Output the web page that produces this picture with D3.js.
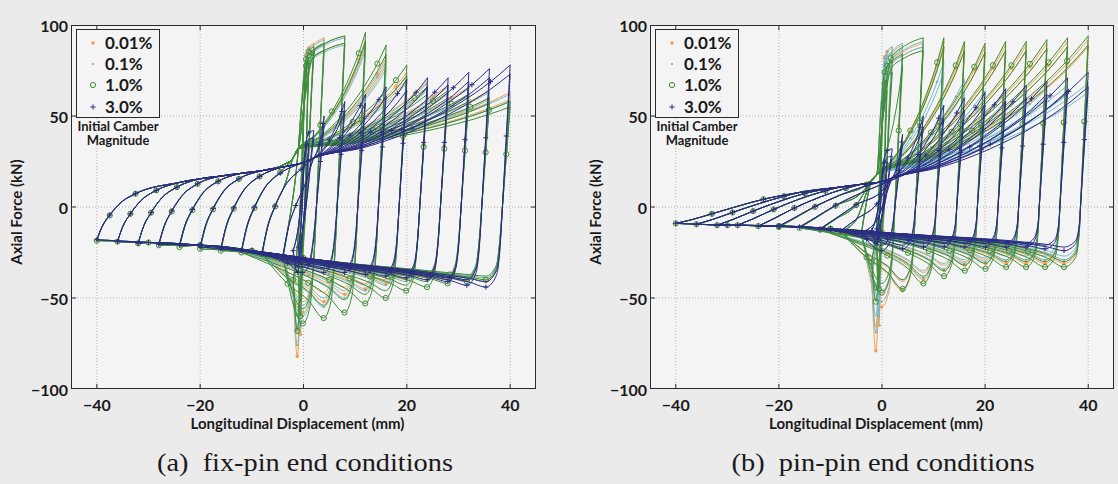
<!DOCTYPE html>
<html><head><meta charset="utf-8">
<script src="https://cdn.jsdelivr.net/npm/d3@7"></script>
<style>
html,body{margin:0;padding:0;background:#ebebeb;}
svg{display:block;}
</style></head>
<body>
<svg id="chart" width="1118" height="484"></svg>
<script>
// ---------------- DATA ----------------
const seriesNames = ["0.01%", "0.1%", "1.0%", "3.0%"];
const amplitudes = [1, 2, 4, 8, 12, 16, 20, 24, 28, 32, 36, 40];   // cycle amplitude (mm)
const xTicks = [-40, -20, 0, 20, 40];
const yTicks = [-100, -50, 0, 50, 100];

// (a) fix-pin : force at -d (start of reload), compression minimum, tension peak (kN); 1st and 2nd cycle
const fixLow = [
  [-30, -45, -27, -25, -24, -23, -22, -21, -20.5, -20, -19, -18],
  [-30, -42, -27, -25, -24, -23, -22, -21, -20.5, -20, -19, -18],
  [-32, -40, -28, -26, -25, -24, -23, -22, -21, -20, -19, -18.5],
  [-22, -24, -27, -25, -24, -23, -22, -21, -20.5, -20, -19, -18]
];
const fixComp = [
  [-70, -82, -58, -52, -48, -45, -42, -40, -39, -39, -40, -41],
  [-66, -76, -60, -55, -50, -46, -43, -41, -40, -40, -40, -41],
  [-60, -68, -64, -61, -58, -53, -50, -46, -44, -42, -41, -40],
  [-30, -36, -36, -36, -36, -37, -38, -39, -40, -41, -43, -44]
];
const fixPeak = [
  [86, 90, 93, 94, 92, 82, 74, 69, 67, 66, 64, 63],
  [84, 89, 92, 93, 90, 80, 72, 68, 66, 65, 63, 62],
  [80, 88, 90, 94, 96, 89, 78, 66, 64, 62, 60, 58],
  [35, 42, 50, 58, 62, 66, 70, 71, 71, 74, 76, 78]
];
const fixComp2 = [
  [-60, -70, -52, -47, -44, -42, -40, -38, -37, -37, -38, -39],
  [-58, -66, -54, -50, -46, -43, -41, -39, -38, -38, -38, -39],
  [-52, -60, -56, -54, -51, -48, -46, -43, -41, -40, -39, -38],
  [-28, -33, -33, -34, -34, -35, -36, -37, -38, -39, -40, -41]
];
const fixPeak2 = [
  [80, 86, 90, 90, 88, 78, 70, 65, 63, 62, 60, 59],
  [78, 85, 89, 89, 86, 76, 68, 64, 62, 61, 59, 58],
  [74, 84, 86, 90, 91, 84, 72, 62, 60, 58, 57, 55],
  [32, 38, 45, 53, 57, 61, 64, 66, 67, 69, 71, 73]
];
const fixUpperThin = [[-24, 13.5], [-20, 15.5], [-16, 17], [-12, 18.5], [-8, 20], [-4, 23], [-2, 27], [-1, 32]];
const fixUpperThick = [[-24, 13.5], [-20, 15.5], [-16, 17], [-12, 18.5], [-8, 20], [-4, 22], [0, 24.5], [2, 27]];
const fixLower = [[-40, -18], [-30, -19.5], [-20, -21], [-10, -24], [0, -28], [10, -31], [20, -33], [30, -35], [40, -37]];

// (b) pin-pin
const pinLow = [
  [-25, -40, -14, -13, -12, -11, -10.5, -10.5, -10, -10, -9.5, -9],
  [-25, -38, -14, -13, -12, -11, -10.5, -10.5, -10, -10, -9.5, -9],
  [-22, -30, -15, -13.5, -12.5, -11.5, -11, -10.5, -10, -10, -9.5, -9],
  [-12, -13, -14, -13, -12, -11, -10.5, -10.5, -10, -10, -9.5, -9]
];
const pinComp = [
  [-65, -79, -55, -46, -40, -35, -32, -31, -31, -31, -31, -31],
  [-60, -69, -52, -45, -39, -34, -31, -30, -29, -29, -29, -29],
  [-45, -52, -47, -45, -42, -38, -35, -34, -33, -33, -33, -33],
  [-18, -20, -24, -23, -22, -22, -22, -22, -22, -22, -23, -24]
];
const pinPeak = [
  [85, 88, 89, 90, 91, 89, 88, 89, 89, 90, 91, 92],
  [84, 88, 90, 91, 80, 70, 64, 63, 64, 65, 67, 68],
  [70, 80, 84, 93, 93, 91, 90, 91, 91, 92, 93, 94],
  [25, 32, 40, 50, 56, 60, 63, 65, 67, 69, 71, 74]
];
const pinComp2 = [
  [-55, -66, -48, -41, -36, -32, -30, -29, -29, -29, -29, -29],
  [-52, -60, -46, -40, -35, -31, -29, -28, -27, -27, -27, -27],
  [-40, -46, -42, -40, -38, -35, -32, -31, -30, -30, -30, -30],
  [-16, -18, -21, -21, -20, -20, -20, -20, -20, -20, -21, -22]
];
const pinPeak2 = [
  [80, 85, 86, 88, 88, 86, 85, 86, 86, 87, 88, 88],
  [80, 85, 87, 88, 74, 64, 58, 58, 59, 60, 62, 63],
  [64, 74, 78, 86, 88, 86, 85, 86, 86, 87, 88, 89],
  [22, 28, 35, 44, 49, 53, 56, 58, 60, 62, 64, 66]
];
const pinUpperThin = [[-24, 4.5], [-16, 8], [-8, 11], [-4, 12.5], [-2, 14.5], [-1, 18]];
const pinUpperThick = [[-24, 4.5], [-16, 8], [-8, 11], [-4, 12.5], [0, 14], [2, 16]];
const pinLower = [[-40, -9.5], [-30, -10], [-20, -10.5], [-10, -12], [0, -14], [10, -15.5], [20, -16.5], [30, -17.5], [40, -18]];

// ---------------- DRAWING ----------------
const svg = d3.select('#chart');
const TOP = 25, BOTTOM = 389;
const FONT = "Lato, 'Open Sans', sans-serif";
const colors = ['#f0a050', '#72bccb', '#3f8c35', '#2b2d84'];

const panels = [
  {x0: 71, x1: 536, low: fixLow, cycles: [[fixComp, fixPeak], [fixComp2, fixPeak2]],
   upper: [fixUpperThin, fixUpperThin, fixUpperThin, fixUpperThick], lower: fixLower,
   caption: '(a)\u00a0\u00a0fix-pin end conditions', capW: 296, capX: 305,
   fanDx: [1, 2.5, 4.5, 7.5], fanFrac: [0.3, 0.55, 0.78, 0.93]},
  {x0: 650, x1: 1114, low: pinLow, cycles: [[pinComp, pinPeak], [pinComp2, pinPeak2]],
   upper: [pinUpperThin, pinUpperThin, pinUpperThin, pinUpperThick], lower: pinLower,
   caption: '(b)\u00a0\u00a0pin-pin end conditions', capW: 303, capX: 883,
   fanDx: [3, 7, 12, 17], fanFrac: [0.25, 0.55, 0.8, 0.95]}
];

function mono(pts) {
  const out = [pts[0]];
  for (let i = 1; i < pts.length; i++) if (pts[i][0] > out[out.length - 1][0] + 0.02) out.push(pts[i]);
  return out;
}

const relaxDist = [25, 14, 7, 3];
const relaxW = [0.05, 0.2, 0.45, 0.7];

function buildLoop(d, L, C, P, upPairs, lowPairs, p, markLB) {
  const marks = [];
  const LB = d3.scaleLinear().domain(lowPairs.map(q => q[0])).range(lowPairs.map(q => q[1]));
  if (d <= 2) {
    const upper = [[-d, L], [-0.3 * d, L + 0.35 * (P - L)], [0.1 * d, L + 0.8 * (P - L)], [0.5 * d, 0.97 * P], [d, P]];
    const lower = [[-d, L], [-0.6 * d, C], [-0.2 * d, 0.5 * C], [0.4 * d, 0.2 * P], [0.75 * d, 0.7 * P], [d, P]];
    marks.push(upper[0], lower[1], upper[3]);
    return {upper, lower, marks};
  }
  const U = d3.scaleLinear().domain(upPairs.map(q => q[0])).range(upPairs.map(q => q[1]));
  const jx = upPairs[upPairs.length - 1][0];
  const upper = [[-d, L]];
  marks.push([-d, L]);
  p.fanDx.forEach((dx, i) => {
    const x = -d + dx;
    if (x >= jx - 0.5) return;
    const pt = [x, L + (U(x) - L) * p.fanFrac[i]];
    upper.push(pt);
    if (i % 2 === 1) marks.push(pt);
  });
  const lastFan = upper[upper.length - 1][0];
  upPairs.forEach(q => { if (q[0] > lastFan + 1) upper.push([q[0], q[1]]); });
  const [x0, F0] = upper[upper.length - 1];
  const steep = d <= 8 && P >= 80;
  const rT = steep ? [0.15, 0.3, 0.6] : [0.25, 0.5, 0.75, 0.9];
  const rG = steep ? [0.5, 0.85, 0.94] : [0.12, 0.32, 0.6, 0.82];
  rT.forEach((t, i) => {
    const pt = [x0 + (d - x0) * t, F0 + (P - F0) * rG[i]];
    upper.push(pt);
    if (i === 1 || i === 3) marks.push(pt);
  });
  upper.push([d, P]);

  // unloading, buckling and post-buckling branch
  const uo = 1.5;
  const xF = F => d - uo * (P - F) / P;
  const a = xF(0.4 * C);
  const jxx = Math.min(a - 2.2, d - (1.5 + 0.08 * d));
  const lower = [[-d, L]];
  const firstRelax = jxx - relaxDist[0];
  lowPairs.forEach(q => {
    if (q[0] > -d + 1 && q[0] < firstRelax - 1) { lower.push(q); if (markLB) marks.push(q); }
  });
  relaxDist.forEach((dist, i) => {
    const x = jxx - dist;
    if (x > -d + 1) {
      const pt = [x, LB(x) + (C - LB(x)) * relaxW[i]];
      lower.push(pt);
      if (i === 2) marks.push(pt);
    }
  });
  lower.push([jxx, C]); marks.push([jxx, C]);
  lower.push([a - 0.8, 0.85 * C]);
  [0.4 * C, 0, 0.5 * P].forEach(F => lower.push([xF(F), F]));
  marks.push(lower[lower.length - 1]);
  lower.push([d, P]);
  return {upper: mono(upper), lower: mono(lower), marks};
}

function drawMarker(g, si, cx, cy) {
  if (si === 0) g.append('circle').attr('cx', cx).attr('cy', cy).attr('r', 1.8).attr('fill', colors[0]);
  else if (si === 1) g.append('circle').attr('cx', cx).attr('cy', cy).attr('r', 1.1).attr('fill', '#7aa8b4');
  else if (si === 2) g.append('circle').attr('cx', cx).attr('cy', cy).attr('r', 2.6).attr('fill', 'none').attr('stroke', colors[2]).attr('stroke-width', 1);
  else g.append('path').attr('d', `M${cx - 2.6},${cy}H${cx + 2.6}M${cx},${cy - 2.6}V${cy + 2.6}`).attr('stroke', colors[3]).attr('stroke-width', 1);
}

panels.forEach((p, pi) => {
  const x = d3.scaleLinear().domain([-45, 45]).range([p.x0, p.x1]);
  const y = d3.scaleLinear().domain([-100, 100]).range([BOTTOM, TOP]);
  const g = svg.append('g');

  g.append('rect').attr('x', p.x0).attr('y', TOP).attr('width', p.x1 - p.x0).attr('height', BOTTOM - TOP).attr('fill', '#f4f4f4');

  // grid
  xTicks.forEach(t => g.append('line').attr('x1', x(t)).attr('x2', x(t)).attr('y1', TOP).attr('y2', BOTTOM)
    .attr('stroke', '#a0a0a0').attr('stroke-width', 0.8).attr('stroke-dasharray', '1,2'));
  yTicks.filter(t => Math.abs(t) < 100).forEach(t => g.append('line').attr('x1', p.x0).attr('x2', p.x1).attr('y1', y(t)).attr('y2', y(t))
    .attr('stroke', '#a0a0a0').attr('stroke-width', 0.8).attr('stroke-dasharray', '1,2'));

  // curves
  const clipId = 'clip' + pi;
  svg.append('clipPath').attr('id', clipId).append('rect').attr('x', p.x0).attr('y', TOP).attr('width', p.x1 - p.x0).attr('height', BOTTOM - TOP);
  const cg = g.append('g').attr('clip-path', `url(#${clipId})`);
  const line = d3.line().x(q => x(q[0])).y(q => y(q[1])).curve(d3.curveMonotoneX);
  for (let si = 0; si < 4; si++) {
    const allMarks = [];
    p.cycles.forEach(([compArr, peakArr], k) => {
      amplitudes.forEach((d, ci) => {
        const loop = buildLoop(d, p.low[si][ci], compArr[si][ci], peakArr[si][ci], p.upper[si], p.lower, p, (ci + k) % 2 === 0);
        cg.append('path').attr('d', line(loop.upper)).attr('fill', 'none').attr('stroke', colors[si]).attr('stroke-width', 1);
        cg.append('path').attr('d', line(loop.lower)).attr('fill', 'none').attr('stroke', colors[si]).attr('stroke-width', 1);
        if (k === 0) loop.marks.forEach(m => allMarks.push(m));
      });
    });
    allMarks.forEach(m => drawMarker(cg, si, x(m[0]), y(m[1])));
  }

  // box and inward ticks
  g.append('rect').attr('x', p.x0 + 0.5).attr('y', TOP + 0.5).attr('width', p.x1 - p.x0 - 1).attr('height', BOTTOM - TOP - 1)
    .attr('fill', 'none').attr('stroke', '#2a2a2a').attr('stroke-width', 1);
  xTicks.forEach(t => {
    g.append('line').attr('x1', x(t)).attr('x2', x(t)).attr('y1', BOTTOM).attr('y2', BOTTOM - 5).attr('stroke', '#2a2a2a');
    g.append('line').attr('x1', x(t)).attr('x2', x(t)).attr('y1', TOP).attr('y2', TOP + 5).attr('stroke', '#2a2a2a');
    g.append('text').attr('x', x(t)).attr('y', BOTTOM + 22).attr('text-anchor', 'middle')
      .attr('font-family', FONT).attr('font-weight', 700).attr('font-size', 16).attr('fill', '#1a1a1a')
      .text(t < 0 ? '\u2212' + Math.abs(t) : String(t));
  });
  yTicks.forEach(t => {
    if (Math.abs(t) < 100) {
      g.append('line').attr('x1', p.x0).attr('x2', p.x0 + 5).attr('y1', y(t)).attr('y2', y(t)).attr('stroke', '#2a2a2a');
      g.append('line').attr('x1', p.x1).attr('x2', p.x1 - 5).attr('y1', y(t)).attr('y2', y(t)).attr('stroke', '#2a2a2a');
    }
    g.append('text').attr('x', p.x0 - 3).attr('y', y(t) + 7).attr('text-anchor', 'end')
      .attr('font-family', FONT).attr('font-weight', 700).attr('font-size', 16).attr('fill', '#1a1a1a')
      .text(t < 0 ? '\u2212' + Math.abs(t) : String(t));
  });

  // axis titles
  g.append('text').attr('x', (p.x0 + p.x1) / 2 - 6).attr('y', 429).attr('text-anchor', 'middle')
    .attr('font-family', FONT).attr('font-weight', 700).attr('font-size', 15).attr('fill', '#1a1a1a')
    .text('Longitudinal Displacement (mm)');
  g.append('text').attr('transform', `translate(${p.x0 - 54},212) rotate(-90)`).attr('text-anchor', 'middle').attr('dy', '0.35em')
    .attr('font-family', FONT).attr('font-weight', 700).attr('font-size', 15).attr('fill', '#1a1a1a')
    .text('Axial Force (kN)');

  // caption
  g.append('text').attr('x', p.capX).attr('y', 471).attr('text-anchor', 'middle')
    .attr('font-family', "'Liberation Serif', 'DejaVu Serif', serif").attr('font-size', 25).attr('fill', '#1a1a1a')
    .attr('textLength', p.capW).attr('lengthAdjust', 'spacingAndGlyphs')
    .text(p.caption);

  // legend
  const lx = p.x0 + 5, ly = 29;
  g.append('rect').attr('x', lx + 0.5).attr('y', ly + 0.5).attr('width', 83).attr('height', 88)
    .attr('fill', '#f4f4f4').attr('stroke', '#2a2a2a').attr('stroke-width', 1);
  const rows = [43, 64, 85, 107];
  seriesNames.forEach((nm, si) => {
    drawMarker(g, si, lx + 17, rows[si]);
    g.append('text').attr('x', lx + 29).attr('y', rows[si] + 6).attr('font-family', FONT).attr('font-weight', 700)
      .attr('font-size', 17).attr('fill', '#1a1a1a').text(nm);
  });
  g.append('text').attr('x', lx + 42).attr('y', 131).attr('text-anchor', 'middle').attr('font-family', FONT)
    .attr('font-weight', 700).attr('font-size', 13).attr('fill', '#1a1a1a').text('Initial Camber');
  g.append('text').attr('x', lx + 42).attr('y', 145).attr('text-anchor', 'middle').attr('font-family', FONT)
    .attr('font-weight', 700).attr('font-size', 13).attr('fill', '#1a1a1a').text('Magnitude');
});
</script>
</body></html>
